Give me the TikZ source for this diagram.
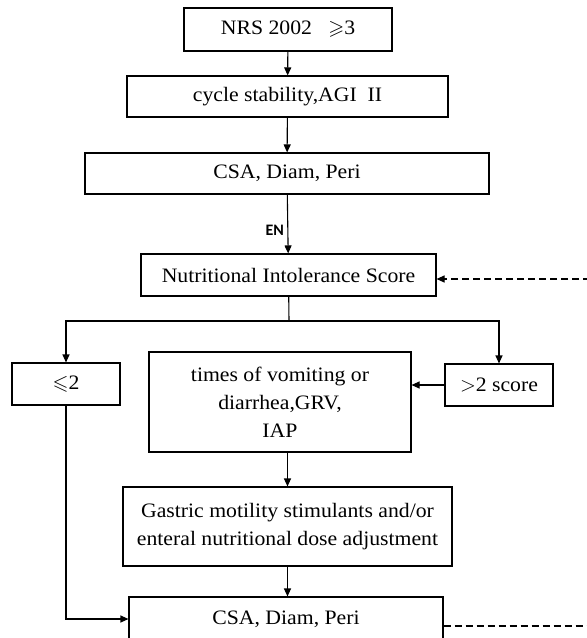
\documentclass[tikz,border=0pt]{standalone}
\usepackage{amssymb}
\usepackage{fontspec}
\setmainfont[FakeStretch=1.06]{Liberation Serif}
\newfontfamily\labelfont{Carlito}
\usetikzlibrary{
    arrows.meta,
    calc,
    positioning
}

\begin{document}
\begin{tikzpicture}[x=1pt, y=-1pt, line width=1.1pt,
    >={Triangle[length=8pt, width=7pt]},
    box/.style={draw, align=center, inner sep=0pt, font=\fontsize{20.5}{28}\selectfont},
    dashline/.style={dash pattern=on 7pt off 4pt}]
                                \useasboundingbox (0, 0) rectangle (587, 638);
                                \clip (0, 0) rectangle (587, 638);
                                \node[box, minimum width=208, minimum height=43] (nrs) at (288, 29.5) {NRS 2002 \ \ $\geqslant$3};
                                \node[box, minimum width=321, minimum height=41] (agi) at (287.5, 96.5) {cycle stability,AGI \ II};
                                \node[box, minimum width=404, minimum height=41] (csa) at (287, 173.5) {CSA, Diam, Peri};
                                \node[box, minimum width=295, minimum height=42] (nis) at (288.5, 275) {Nutritional Intolerance Score};
                                \node[box, minimum width=108, minimum height=42] (le) at (66, 384) {$\leqslant$2};
                                \node[box, minimum width=108, minimum height=42] (gt) at (499, 385) {$>$2 score};
                                \node[box, minimum width=262, minimum height=100] (vom) at (280, 402) {times of vomiting or\\diarrhea,GRV,\\IAP};
                                \node[box, minimum width=329, minimum height=79] (gas) at (287.5, 526.5) {Gastric motility stimulants and/or\\enteral nutritional dose adjustment};
                                \node[box, minimum width=314, minimum height=44] (csb) at (286, 619) {CSA, Diam, Peri};
                                \coordinate (split) at (289, 321);
                                \coordinate (rt) at (590, 279);
                                \coordinate (rb) at (590, 626);
                                \draw
                                (nrs) edge[->] (agi)
                                (agi) edge[->] (csa)
                                (csa) edge[->, left] node[pos=0.6, font=\labelfont\bfseries\fontsize{16}{18}\selectfont]{EN} (nis)
                                (nis) edge (split)
                                (gt.west) edge[->] (gt.west -| vom.east)
                                (gas.north |- vom.south) edge[->] (gas.north)
                                (gas.south) edge[->] (gas.south |- csb.north);
                                \draw[->] (split) -| (le);
                                \draw[->] (split) -| (gt);
                                \draw[->] (le) |- (csb);
                                \draw[dashline] (csb.east |- rb) -- (rb);
                                \draw[dashline, ->] (rt) -- (rt -| nis.east);
                            \end{tikzpicture}
\end{document}
